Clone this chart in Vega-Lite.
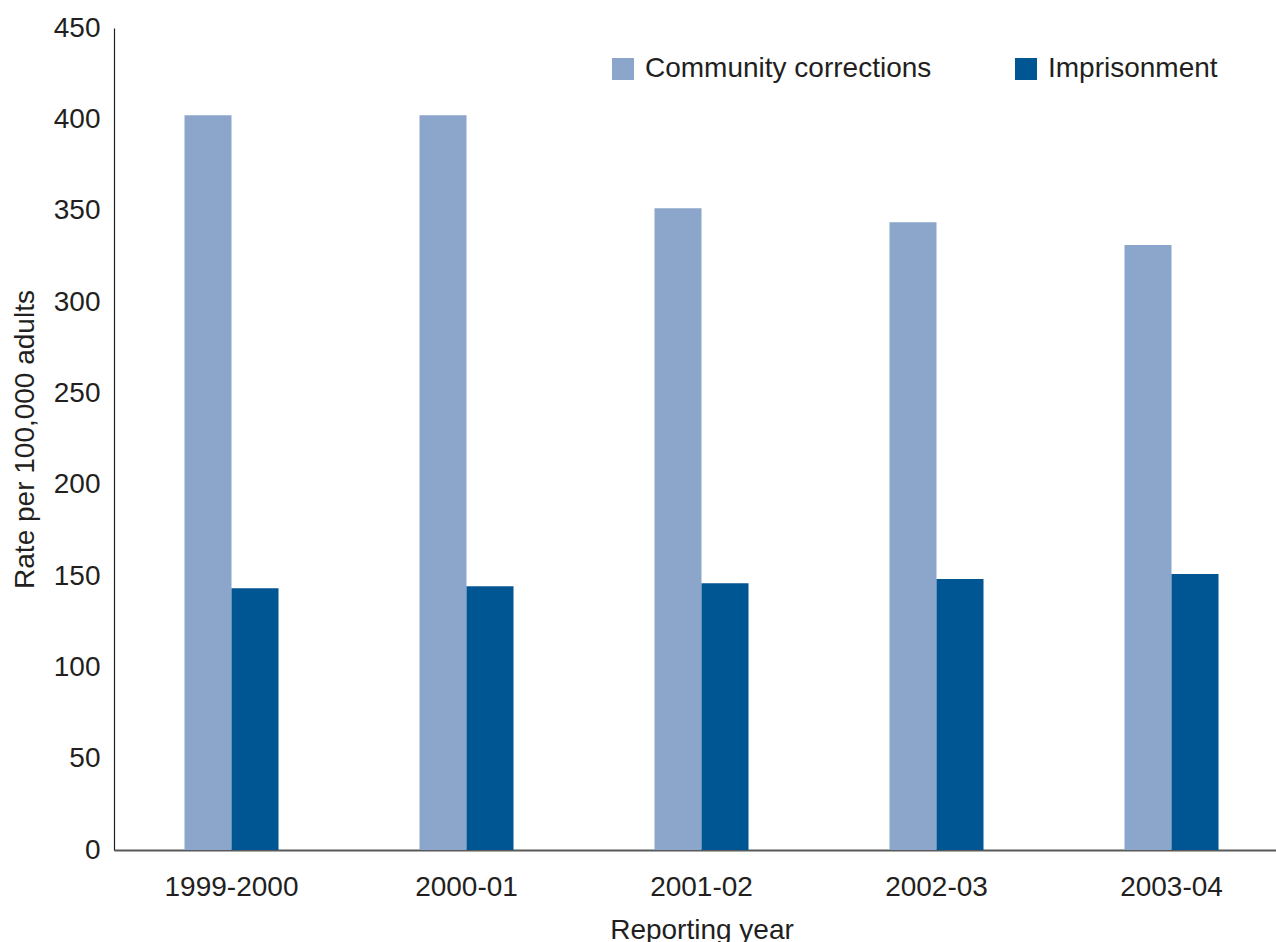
{
  "$schema": "https://vega.github.io/schema/vega-lite/v6.json",
  "autosize": {"type": "none"},
  "padding": {"left": 114, "top": 28, "right": 0, "bottom": 92},
  "width": 1175,
  "height": 822,
  "background": "white",
  "config": {
    "font": "Liberation Sans",
    "view": {"stroke": null},
    "axis": {"grid": false, "ticks": false, "tickSize": 0, "labelColor": "#231f20", "titleColor": "#231f20", "labelFontSize": 28, "titleFontSize": 28, "titleFontWeight": "normal", "labelFont": "Liberation Sans", "titleFont": "Liberation Sans"}
  },
  "data": {
    "values": [
      {"year": "1999-2000", "series": "Community corrections", "rate": 402.3},
      {"year": "1999-2000", "series": "Imprisonment", "rate": 143.3},
      {"year": "2000-01", "series": "Community corrections", "rate": 402.3},
      {"year": "2000-01", "series": "Imprisonment", "rate": 144.4},
      {"year": "2001-02", "series": "Community corrections", "rate": 351.3},
      {"year": "2001-02", "series": "Imprisonment", "rate": 146.0},
      {"year": "2002-03", "series": "Community corrections", "rate": 343.6},
      {"year": "2002-03", "series": "Imprisonment", "rate": 148.4},
      {"year": "2003-04", "series": "Community corrections", "rate": 331.2},
      {"year": "2003-04", "series": "Imprisonment", "rate": 151.1}
    ]
  },
  "mark": {"type": "bar"},
  "encoding": {
    "x": {
      "field": "year",
      "type": "nominal",
      "sort": null,
      "scale": {"paddingInner": 0.6, "paddingOuter": 0.3},
      "axis": {
        "title": "Reporting year",
        "labelAngle": 0,
        "labelPadding": 45,
        "labelBaseline": "alphabetic",
        "domainColor": "#58595b",
        "domainWidth": 2,
        "titleY": 88,
        "titleBaseline": "alphabetic"
      }
    },
    "xOffset": {"field": "series", "type": "nominal", "sort": ["Community corrections", "Imprisonment"]},
    "y": {
      "field": "rate",
      "type": "quantitative",
      "scale": {"domain": [0, 450], "nice": false},
      "axis": {
        "title": "Rate per 100,000 adults",
        "values": [0, 50, 100, 150, 200, 250, 300, 350, 400, 450],
        "labelPadding": 14,
        "domainColor": "#231f20",
        "domainWidth": 1.2,
        "titleX": -89,
        "titleY": 411,
        "titleAngle": -90,
        "titleAlign": "center",
        "titleBaseline": "middle"
      }
    },
    "color": {
      "field": "series",
      "type": "nominal",
      "sort": ["Community corrections", "Imprisonment"],
      "scale": {"domain": ["Community corrections", "Imprisonment"], "range": ["#8ba5cb", "#005593"]},
      "legend": {
        "title": null,
        "orient": "none",
        "direction": "horizontal",
        "legendX": 495,
        "legendY": 27,
        "padding": 0,
        "symbolType": "square",
        "symbolSize": 484,
        "symbolStrokeWidth": 0,
        "symbolOpacity": 1,
        "labelFontSize": 28,
        "labelColor": "#231f20",
        "labelFont": "Liberation Sans",
        "labelOffset": 8,
        "columnPadding": 80,
        "labelLimit": 400
      }
    }
  }
}
